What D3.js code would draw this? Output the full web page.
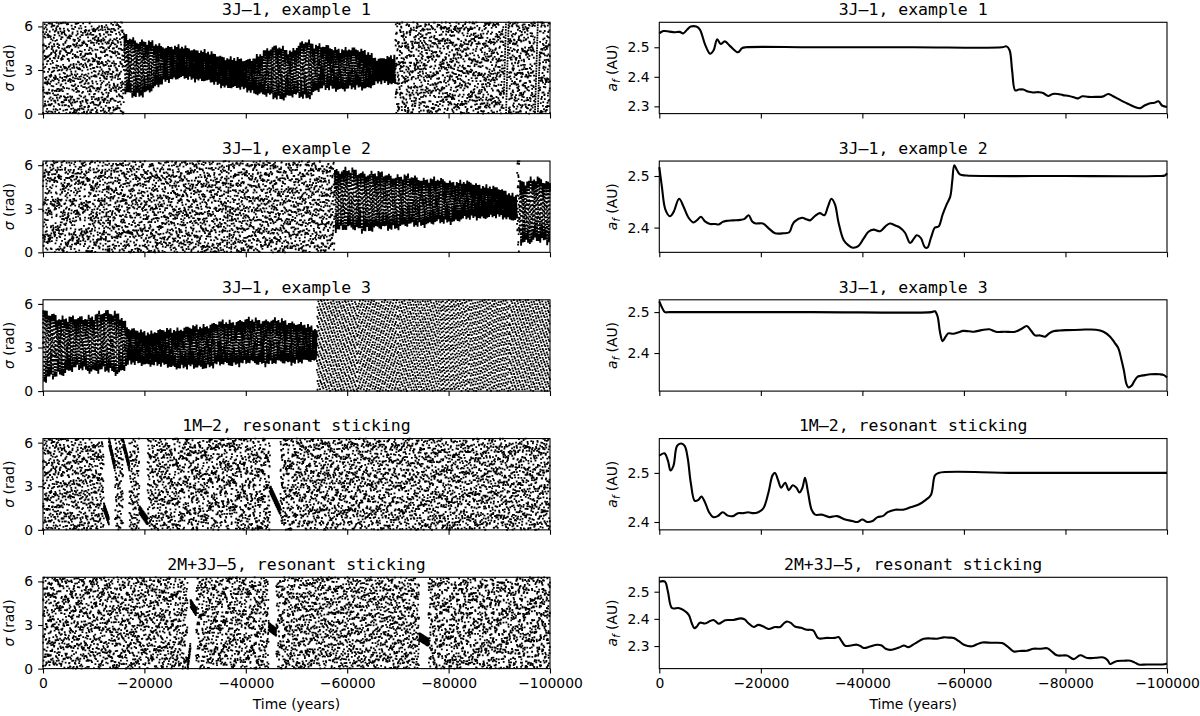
<!DOCTYPE html>
<html><head><meta charset="utf-8">
<script src="https://cdn.jsdelivr.net/npm/d3@7"></script>
<style>body{margin:0;background:#fff}svg{display:block}</style>
</head><body><svg id="c" width="1200" height="716"></svg>
<script>
// ---------- DATA ----------
const timeTicks = [0, -20000, -40000, -60000, -80000, -100000];
const sigmaTicks = [0, 3, 6];
const leftTitles = ["3J\u20131, example 1", "3J\u20131, example 2", "3J\u20131, example 3", "1M\u20132, resonant sticking", "2M+3J\u20135, resonant sticking"];
const rightTitles = leftTitles;

// semi-major axis a_f (AU) vs time (years)
const af1 = [[0,2.547],[-800,2.555],[-2000,2.553],[-3000,2.551],[-4000,2.552],[-4700,2.547],[-5500,2.56],[-6200,2.57],[-7300,2.57],[-8000,2.56],[-9000,2.51],[-10000,2.478],[-10700,2.49],[-11400,2.527],[-12100,2.511],[-12900,2.52],[-14000,2.503],[-15500,2.483],[-16300,2.497],[-17000,2.5],[-30000,2.5],[-50000,2.5],[-67500,2.5],[-68400,2.503],[-69000,2.49],[-69500,2.42],[-70100,2.354],[-70800,2.357],[-71700,2.357],[-72600,2.35],[-73600,2.347],[-74800,2.348],[-75600,2.345],[-76600,2.335],[-77500,2.342],[-78500,2.342],[-79500,2.338],[-80700,2.335],[-81800,2.33],[-82500,2.327],[-83300,2.334],[-84500,2.332],[-86000,2.332],[-87300,2.333],[-88400,2.342],[-89300,2.335],[-90300,2.326],[-91500,2.315],[-92500,2.307],[-93800,2.297],[-94700,2.294],[-95500,2.302],[-96500,2.31],[-97500,2.312],[-98300,2.317],[-99100,2.302],[-100000,2.298]];
const af2 = [[0,2.517],[-500,2.48],[-1200,2.435],[-2100,2.422],[-2800,2.43],[-3900,2.456],[-4800,2.44],[-5700,2.42],[-6700,2.41],[-7500,2.415],[-8200,2.421],[-9000,2.412],[-10000,2.407],[-11000,2.407],[-11700,2.406],[-12500,2.411],[-13200,2.413],[-14500,2.414],[-16000,2.415],[-16800,2.417],[-17600,2.424],[-18300,2.412],[-19000,2.408],[-20400,2.408],[-21500,2.399],[-22800,2.389],[-24500,2.389],[-25600,2.391],[-26200,2.405],[-26700,2.412],[-28100,2.419],[-29000,2.416],[-29700,2.414],[-30600,2.422],[-31600,2.428],[-32500,2.424],[-33200,2.44],[-33900,2.456],[-34600,2.445],[-35300,2.41],[-36300,2.376],[-37200,2.366],[-38100,2.361],[-39200,2.364],[-40200,2.378],[-41200,2.392],[-42200,2.396],[-43500,2.393],[-44500,2.402],[-45400,2.408],[-46500,2.404],[-47400,2.40],[-48400,2.39],[-49400,2.37],[-50100,2.378],[-50700,2.385],[-51500,2.38],[-52300,2.362],[-52800,2.361],[-53500,2.38],[-54300,2.40],[-55000,2.402],[-55800,2.425],[-56600,2.445],[-57300,2.46],[-57700,2.49],[-58100,2.521],[-58600,2.512],[-59200,2.503],[-60500,2.501],[-80000,2.5],[-98000,2.5],[-99600,2.501],[-100000,2.505]];
const af3 = [[0,2.526],[-500,2.512],[-1100,2.5],[-2000,2.5],[-30000,2.5],[-53600,2.5],[-54300,2.502],[-54800,2.49],[-55300,2.45],[-55800,2.429],[-56400,2.44],[-56900,2.448],[-57900,2.447],[-59000,2.451],[-59800,2.454],[-61000,2.453],[-62000,2.452],[-63500,2.456],[-65000,2.458],[-66300,2.452],[-68000,2.452],[-70100,2.452],[-71200,2.458],[-72400,2.466],[-73200,2.455],[-74000,2.443],[-75000,2.443],[-76000,2.44],[-76800,2.448],[-77600,2.453],[-78800,2.455],[-80300,2.456],[-83000,2.457],[-86000,2.457],[-87500,2.452],[-88800,2.44],[-89700,2.425],[-90400,2.412],[-91000,2.385],[-91500,2.358],[-92000,2.325],[-92400,2.316],[-93000,2.32],[-93500,2.33],[-94200,2.342],[-94700,2.344],[-95700,2.346],[-96700,2.348],[-98600,2.348],[-99400,2.346],[-100000,2.34]];
const af4 = [[0,2.535],[-1000,2.54],[-1700,2.525],[-2200,2.505],[-2800,2.515],[-3500,2.555],[-4300,2.56],[-5000,2.555],[-5600,2.53],[-6200,2.48],[-7000,2.443],[-7700,2.445],[-8300,2.452],[-9000,2.44],[-9800,2.42],[-10600,2.41],[-11500,2.412],[-12500,2.42],[-13500,2.413],[-14500,2.412],[-15500,2.418],[-16500,2.418],[-17500,2.42],[-18500,2.418],[-19500,2.42],[-20500,2.428],[-21500,2.46],[-22300,2.495],[-22800,2.5],[-23400,2.485],[-24000,2.47],[-24800,2.48],[-25500,2.465],[-26300,2.475],[-27000,2.47],[-27600,2.46],[-28200,2.47],[-28700,2.49],[-29300,2.46],[-30000,2.425],[-30700,2.415],[-32000,2.415],[-33500,2.41],[-35000,2.412],[-36600,2.405],[-38000,2.402],[-39000,2.4],[-40000,2.405],[-41000,2.4],[-42000,2.402],[-43000,2.41],[-44000,2.412],[-45000,2.42],[-46500,2.425],[-48000,2.425],[-49500,2.43],[-51000,2.435],[-52500,2.445],[-53500,2.455],[-54300,2.495],[-55000,2.5],[-70000,2.5],[-100000,2.5]];
const af5 = [[0,2.537],[-1100,2.537],[-1700,2.5],[-2500,2.44],[-3800,2.44],[-4700,2.433],[-5800,2.415],[-6400,2.384],[-6900,2.366],[-7400,2.372],[-8000,2.386],[-9000,2.383],[-10000,2.392],[-10700,2.396],[-11700,2.382],[-12500,2.39],[-13000,2.395],[-14600,2.396],[-16000,2.402],[-16800,2.398],[-17500,2.385],[-18600,2.37],[-19500,2.378],[-20500,2.372],[-21500,2.363],[-22800,2.37],[-23800,2.37],[-24500,2.383],[-25100,2.39],[-25900,2.385],[-26700,2.372],[-27900,2.367],[-29100,2.36],[-30300,2.358],[-31300,2.329],[-33000,2.33],[-34600,2.33],[-35300,2.333],[-36000,2.315],[-36600,2.301],[-37800,2.302],[-38900,2.305],[-39600,2.3],[-40300,2.293],[-41500,2.298],[-42900,2.305],[-43800,2.302],[-44600,2.29],[-45400,2.286],[-46500,2.29],[-47400,2.296],[-48200,2.302],[-49100,2.296],[-50400,2.31],[-52100,2.327],[-53500,2.328],[-54700,2.327],[-56000,2.332],[-57000,2.331],[-58000,2.33],[-59000,2.318],[-60000,2.305],[-61600,2.299],[-62500,2.306],[-63600,2.313],[-65500,2.312],[-67500,2.311],[-68500,2.3],[-69800,2.28],[-71000,2.282],[-72400,2.283],[-73700,2.29],[-75000,2.29],[-76400,2.292],[-77300,2.28],[-78300,2.266],[-80300,2.265],[-81600,2.252],[-82900,2.266],[-84300,2.256],[-86000,2.257],[-87500,2.258],[-88300,2.248],[-88800,2.234],[-89500,2.24],[-90200,2.245],[-91500,2.246],[-92800,2.246],[-93600,2.24],[-94400,2.232],[-96000,2.232],[-98000,2.232],[-99500,2.233],[-100000,2.236]];
const afDomains = [[2.2755,2.5845],[2.352,2.529],[2.307,2.530],[2.384,2.570],[2.217,2.553]];
const afTicks = [[2.3,2.4,2.5],[2.4,2.5],[2.4,2.5],[2.4,2.5],[2.3,2.4,2.5]];

// resonant angle sigma (rad): libration envelopes [time, lower, upper]
const sig1Lib = [[-16000,1.2,5.5],[-19000,1.1,5.2],[-21000,1.3,5.0],[-24000,2.2,4.7],[-28000,2.4,4.6],[-32000,2.2,4.3],[-36000,1.8,3.9],[-40000,1.6,3.7],[-43000,1.2,4.2],[-46500,0.9,4.9],[-49000,1.1,4.3],[-52000,0.9,5.3],[-54000,1.5,4.8],[-57000,1.6,4.6],[-61000,1.6,4.5],[-64000,1.7,4.4],[-66000,2.1,3.7],[-69000,2.0,4.0],[-69500,2.0,4.2]];
const sig2LibA = [[-57500,1.5,5.9],[-60000,1.4,5.8],[-65000,1.4,5.6],[-70000,1.6,5.4],[-75000,1.8,5.2],[-80000,2.0,5.0],[-85000,2.3,4.8],[-90000,2.4,4.4],[-93500,2.2,3.9]];
const sig2LibB = [[-94000,0.6,5.1],[-97000,0.5,5.2],[-100000,0.6,5.0]];
const sig3Lib = [[0,0.3,5.6],[-3000,1.0,5.3],[-7000,1.4,5.1],[-11000,1.2,5.5],[-15000,1.1,5.6],[-17000,1.8,4.3],[-21000,1.8,4.1],[-25000,1.6,4.3],[-30000,1.5,4.5],[-35000,1.7,4.8],[-40000,1.8,5.0],[-45000,1.8,5.0],[-50000,1.9,4.8],[-54000,2.0,4.3]];
// circulation: [from time, cycles per sample, scatter strength]
const sig1Rate = [[0,0.3183,1],[-69600,0.2871,1],[-74000,0.0521,0.3],[-74800,0.3419,1],[-90900,0.03,0.0],[-91900,0.3319,1],[-97000,0.028,0.0],[-98000,0.2957,1]];
const sig2Rate = [[0,0.2971,1],[-12000,0.0431,0.4],[-13500,0.3217,1],[-36000,0.0391,0.3],[-37300,0.3117,1]];
const sig3Rate = [[-54000,0.0973,0.04],[-62000,0.1029,0.04],[-70000,0.0969,0.04],[-78000,0.0962,0.04],[-84000,0.1038,0.04],[-92000,0.0971,0.04]];
const sig4Rate = [[0,0.3183,1],[-25000,0.2917,1],[-50000,0.3371,1],[-75000,0.3079,1]];
const sig5Rate = [[0,0.3291,1],[-25000,0.2983,1],[-50000,0.3163,1],[-75000,0.2861,1]];
// slow passages (sticking): [start time, end time, sigma start, sigma end]
const sig4Stick = [[-12000,-13000,1.6,0.6],[-13000,-14200,6.1,4.3],[-15800,-17000,6.0,4.4],[-19000,-20600,1.4,0.6],[-44800,-46800,2.8,1.3]];
const sig5Stick = [[-28500,-29100,0.05,1.6],[-29100,-30200,4.5,3.9],[-44500,-46000,2.9,2.5],[-74200,-76000,2.2,1.8]];
const libRate = 0.0233;

// ---------- DRAWING ----------
const svg = d3.select("#c");
const LX = [43, 550], RX = [659.3, 1167];
const top0 = 22.3, step = 138.75, ph = 91.3;
const FS = 13.9, tickLen = 4.9, TFS = 16.5;
const TAU = 2*Math.PI;

function drawFrame(g, x, y, yTicks, yFmt, showX){
  const style = a => { a.select(".domain").remove(); a.selectAll("line").attr("stroke","#000").attr("stroke-width",1.1);
      a.selectAll("text").attr("font-family","DejaVu Sans").attr("font-size",FS).attr("fill","#000"); };
  g.append("g").attr("transform", `translate(0,${ph})`)
    .call(d3.axisBottom(x).tickValues(timeTicks).tickSize(tickLen).tickPadding(4.9).tickFormat(showX ? d3.format("d") : ""))
    .call(style);
  g.append("g").attr("transform", `translate(${x.range()[0]},0)`)
    .call(d3.axisLeft(y).tickValues(yTicks).tickSize(tickLen).tickPadding(4.9).tickFormat(yFmt))
    .call(style);
  g.append("rect").attr("x", x.range()[0]).attr("y",0).attr("width", x.range()[1]-x.range()[0]).attr("height", ph)
    .attr("fill","none").attr("stroke","#000").attr("stroke-width",1.1);
}

const DT = 16, NS = Math.floor(100000/DT);
function stepLookup(arr, t){ let v = arr[0]; for (const k of arr){ if (t <= k[0]) v = k; else break; } return v; }
function buildSigma(libs, rate, sticks, mu){
  const L = libs.map(k => ({t0:k[0][0], t1:k[k.length-1][0],
     lo:d3.scaleLinear().domain(k.map(d=>d[0])).range(k.map(d=>d[1])),
     hi:d3.scaleLinear().domain(k.map(d=>d[0])).range(k.map(d=>d[2]))}));
  let p = 0.137, th = 0;
  const out = [];
  for (let n=0; n<=NS; n++){
    const t = -n*DT;
    const st = sticks.find(s => t <= s[0] && t >= s[1]);
    if (st){ const u=(st[0]-t)/(st[0]-st[1]); out.push([t, st[2]+(st[3]-st[2])*u + 0.25*Math.sin(n*1.7)]); continue; }
    const l = L.find(s => t <= s.t0 && t >= s.t1);
    if (l){
      // two sub-samples per step inside the libration band
      for (let k=0; k<2; k++){
        th += mu;
        const tt = t - k*DT/2, m2 = 2*n + k;
        const lo=l.lo(tt), hi=l.hi(tt), m=(lo+hi)/2;
        const h=(hi-lo)/2*(0.88 + 0.07*Math.sin(TAU*m2*0.0046) + 0.05*Math.sin(TAU*m2*0.0219+1));
        out.push([tt, m + h*Math.sin(TAU*th) + 0.1*Math.sin(TAU*m2*0.0357)]);
      }
      continue;
    }
    const r = stepLookup(rate, t);
    p += r[1];
    let s = TAU*p + r[2]*(1.4*Math.sin(TAU*n*0.0029+0.4) + 0.8*Math.sin(TAU*n*0.01713+1.3) + 0.6*Math.sin(TAU*n*0.1371+2.1));
    s = ((s % TAU) + TAU) % TAU;
    out.push([t, s]);
  }
  return out;
}

const leftSpecs = [
  [[sig1Lib], sig1Rate, [], libRate],
  [[sig2LibA, sig2LibB], sig2Rate, [], libRate],
  [[sig3Lib], sig3Rate, [], libRate],
  [[], sig4Rate, sig4Stick, libRate],
  [[], sig5Rate, sig5Stick, libRate]
];
const afData = [af1, af2, af3, af4, af5];

for (let i=0; i<5; i++){
  const ty = top0 + i*step;
  // left: resonant angle
  const gl = svg.append("g").attr("transform", `translate(0,${ty})`);
  const xl = d3.scaleLinear().domain([0,-100000]).range(LX);
  const yl = d3.scaleLinear().domain([0, TAU]).range([ph, 0]);
  const pts = buildSigma(...leftSpecs[i]);
  const s = 1.8;
  let dpath = "";
  for (const d of pts){ const px = xl(d[0]) - s/2, py = yl(Math.max(0,Math.min(TAU,d[1]))) - s/2;
    dpath += `M${px.toFixed(2)},${py.toFixed(2)}h${s}v${s}h-${s}z`; }
  gl.append("path").attr("d", dpath).attr("fill","#000");
  drawFrame(gl, xl, yl, sigmaTicks, d3.format("d"), i===4);
  gl.append("text").attr("x", (LX[0]+LX[1])/2).attr("y", -7.2).attr("text-anchor","middle")
    .attr("font-family","DejaVu Sans Mono").attr("font-size",TFS).text(leftTitles[i]);
  const yt = gl.append("text").attr("transform", `translate(14,${ph/2}) rotate(-90)`).attr("text-anchor","middle")
    .attr("font-family","DejaVu Sans").attr("font-size",FS);
  yt.append("tspan").attr("font-style","italic").text("\u03c3");
  yt.append("tspan").text(" (rad)");

  // right: semi-major axis
  const gr = svg.append("g").attr("transform", `translate(0,${ty})`);
  const xr = d3.scaleLinear().domain([0,-100000]).range(RX);
  const yr = d3.scaleLinear().domain(afDomains[i]).range([ph, 0]);
  gr.append("path").datum(afData[i])
    .attr("d", d3.line().x(d=>xr(d[0])).y(d=>yr(d[1])).curve(d3.curveCatmullRom.alpha(0.5)))
    .attr("fill","none").attr("stroke","#000").attr("stroke-width",2.1).attr("stroke-linejoin","round");
  drawFrame(gr, xr, yr, afTicks[i], d3.format(".1f"), i===4);
  gr.append("text").attr("x", (RX[0]+RX[1])/2).attr("y", -7.2).attr("text-anchor","middle")
    .attr("font-family","DejaVu Sans Mono").attr("font-size",TFS).text(rightTitles[i]);
  const ya = gr.append("text").attr("transform", `translate(617,${ph/2}) rotate(-90)`).attr("text-anchor","middle")
    .attr("font-family","DejaVu Sans").attr("font-size",FS);
  ya.append("tspan").attr("font-style","italic").text("a");
  ya.append("tspan").attr("font-style","italic").attr("font-size",FS*0.7).attr("dy",3).text("f");
  ya.append("tspan").attr("dy",-3).text(" (AU)");
}
svg.append("text").attr("x",(LX[0]+LX[1])/2).attr("y",709).attr("text-anchor","middle")
  .attr("font-family","DejaVu Sans").attr("font-size",FS).text("Time (years)");
svg.append("text").attr("x",(RX[0]+RX[1])/2).attr("y",709).attr("text-anchor","middle")
  .attr("font-family","DejaVu Sans").attr("font-size",FS).text("Time (years)");
</script></body></html>
